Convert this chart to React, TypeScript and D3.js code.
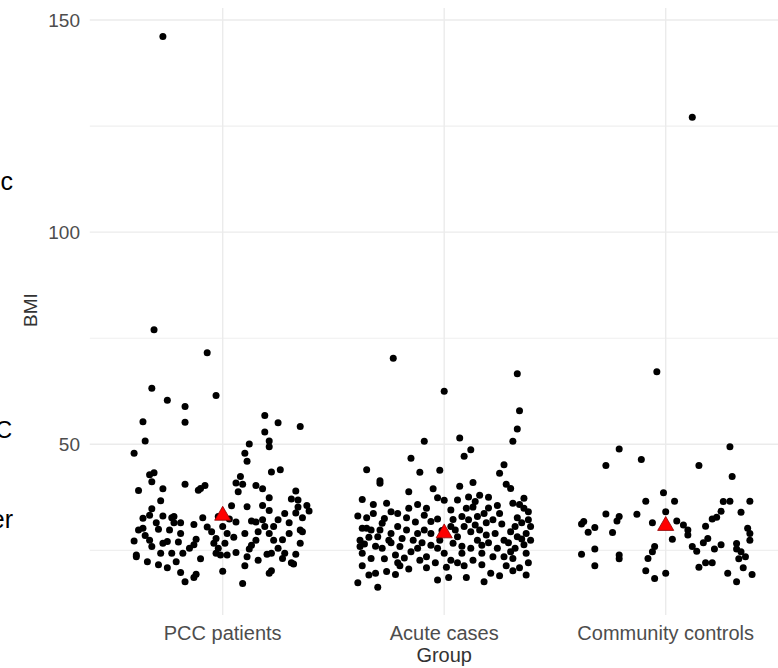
import React from "react";
import * as d3 from "d3";

const categories = ["PCC patients", "Acute cases", "Community controls"];
const yTicks = [50, 100, 150];
const yMinor = [25, 75, 125];

// [jitter offset (category units), BMI]
const pccPoints: [number, number][] = [
  [-0.27, 146.1], [-0.31, 77.0], [-0.07, 71.6], [-0.32, 63.2], [-0.25, 60.4], [-0.03, 61.5],
  [-0.17, 58.9], [-0.36, 55.3], [-0.17, 55.2], [-0.35, 50.8], [-0.4, 47.9], [0.19, 56.8],
  [0.25, 55.1], [0.35, 54.2], [0.19, 52.9], [0.21, 50.8], [0.21, 49.4], [0.12, 50.1],
  [0.1, 47.9], [0.11, 46.0], [0.22, 43.5], [0.26, 44.0], [0.08, 42.4], [0.06, 40.9],
  [0.09, 40.6], [0.07, 38.8], [0.15, 40.3], [0.18, 39.5], [0.21, 37.4], [0.33, 39.0],
  [0.31, 37.1], [0.34, 36.9], [0.38, 35.6], [0.39, 34.3], [0.34, 35.2], [0.36, 32.7],
  [0.35, 29.8], [0.36, 29.4], [0.35, 26.7], [0.33, 24.1], [0.31, 22.1], [0.32, 21.8],
  [0.27, 23.1], [0.28, 24.3], [0.3, 29.0], [0.28, 33.7], [0.25, 32.2], [0.23, 30.6],
  [0.21, 34.4], [0.18, 32.2], [0.19, 30.6], [0.21, 29.0], [0.23, 27.4], [0.25, 25.5],
  [0.22, 24.3], [0.2, 24.1], [0.16, 22.7], [0.21, 19.6], [0.22, 20.2], [0.09, 17.2],
  [0.1, 21.4], [0.11, 23.5], [0.12, 25.3], [0.15, 27.4], [0.16, 29.4], [0.15, 31.7],
  [0.13, 31.9], [0.11, 35.3], [0.1, 29.0], [0.06, 31.7], [0.04, 35.5], [0.0, 30.6],
  [0.02, 29.0], [0.05, 28.1], [0.01, 26.7], [-0.02, 25.5], [-0.03, 24.3], [-0.01, 23.9],
  [0.02, 23.9], [-0.04, 26.7], [-0.05, 29.4], [-0.03, 27.8], [0.0, 20.1], [-0.09, 32.7],
  [-0.13, 31.1], [-0.12, 27.6], [-0.13, 26.3], [-0.15, 25.5], [-0.18, 24.3], [-0.19, 29.0],
  [-0.19, 31.5], [-0.22, 33.0], [-0.22, 31.5], [-0.23, 24.3], [-0.21, 22.3], [-0.19, 19.8],
  [-0.17, 17.6], [-0.12, 19.4], [-0.13, 18.6], [-0.17, 40.6], [-0.11, 39.2], [-0.1, 39.6],
  [-0.08, 40.3], [-0.27, 39.5], [-0.28, 36.7], [-0.27, 33.1], [-0.29, 30.0], [-0.32, 34.8],
  [-0.33, 33.3], [-0.36, 32.6], [-0.38, 39.1], [-0.33, 42.8], [-0.31, 43.3], [-0.32, 41.2],
  [-0.38, 29.8], [-0.36, 30.2], [-0.4, 27.2], [-0.33, 27.4], [-0.32, 25.9], [-0.28, 24.3],
  [-0.27, 26.7], [-0.25, 27.1], [-0.39, 23.9], [-0.39, 23.5], [-0.34, 22.3], [-0.29, 21.6],
  [-0.25, 20.9], [-0.23, 32.7], [-0.35, 28.5], [-0.3, 31.5], [-0.2, 27.0], [-0.07, 30.5],
  [0.03, 32.4], [0.27, 27.5], [0.3, 31.5], [0.13, 26.2], [-0.1, 23.0], [0.06, 24.5],
  [0.33, 33.8], [-0.24, 29.8], [0.18, 35.6], [-0.02, 33.0],
];

const acutePoints: [number, number][] = [
  [-0.23, 70.3], [0.0, 62.5], [0.33, 66.6], [0.34, 57.9], [0.33, 53.6], [0.31, 50.7],
  [0.27, 45.2], [0.25, 43.2], [0.28, 40.6], [0.3, 39.6], [0.07, 51.5], [0.12, 48.7],
  [0.09, 47.2], [-0.09, 50.7], [-0.15, 46.7], [-0.11, 43.4], [-0.02, 43.9], [-0.35, 44.0],
  [-0.29, 41.4], [-0.29, 40.8], [0.07, 40.1], [0.13, 41.0], [-0.05, 39.5], [-0.16, 38.8],
  [-0.03, 37.4], [0.0, 36.8], [-0.37, 37.0], [-0.32, 35.8], [-0.26, 36.1], [-0.24, 34.1],
  [-0.16, 34.9], [-0.08, 34.9], [0.03, 34.5], [0.16, 38.0], [0.2, 37.5], [0.14, 36.5],
  [0.1, 34.9], [-0.39, 33.1], [-0.35, 32.7], [-0.28, 31.4], [-0.17, 32.7], [-0.09, 33.3],
  [-0.03, 32.4], [0.25, 33.7], [0.22, 32.2], [0.18, 33.7], [0.15, 33.0], [0.08, 33.0],
  [0.31, 36.1], [0.36, 37.3], [0.36, 34.9], [0.38, 34.1], [0.38, 32.2], [0.33, 32.7],
  [-0.35, 30.2], [-0.33, 29.8], [-0.38, 27.4], [-0.34, 28.1], [-0.3, 28.2], [-0.25, 27.4],
  [-0.21, 30.6], [-0.17, 29.8], [-0.12, 29.0], [-0.09, 29.8], [-0.06, 29.0], [0.05, 29.8],
  [0.09, 30.6], [0.12, 29.4], [0.16, 29.8], [0.19, 28.6], [0.27, 27.4], [0.3, 29.4],
  [0.33, 28.2], [0.37, 29.0], [0.39, 27.4], [0.36, 26.3], [-0.38, 25.9], [-0.37, 24.3],
  [-0.33, 23.1], [-0.37, 21.4], [-0.28, 25.5], [-0.22, 23.9], [-0.2, 25.9], [-0.15, 24.7],
  [-0.12, 25.5], [-0.08, 23.5], [-0.03, 25.5], [0.0, 24.3], [0.03, 22.7], [0.08, 24.3],
  [0.12, 25.5], [0.17, 24.3], [0.22, 23.5], [0.27, 23.5], [0.31, 23.1], [0.38, 22.1],
  [0.34, 20.9], [0.37, 19.2], [-0.31, 19.6], [-0.26, 20.0], [-0.2, 21.4], [-0.16, 20.6],
  [-0.08, 20.9], [-0.03, 18.0], [0.02, 18.6], [0.09, 21.4], [0.1, 18.6], [0.18, 17.6],
  [0.21, 19.6], [-0.39, 17.4], [-0.3, 16.3], [0.17, 21.6], [0.28, 21.4], [-0.37, 30.2],
  [-0.14, 27.4], [-0.02, 27.4], [0.04, 26.7], [0.15, 27.4], [0.24, 25.5], [0.32, 25.5],
  [-0.24, 29.0], [-0.21, 22.1], [-0.11, 22.7], [-0.04, 22.1], [0.06, 22.1], [0.13, 22.7],
  [-0.29, 29.8], [0.11, 32.2], [0.19, 31.5], [0.39, 30.6], [0.03, 30.6], [-0.13, 31.7],
  [-0.21, 33.7], [-0.32, 33.7], [0.06, 36.9], [0.11, 37.6], [0.37, 24.3], [0.3, 24.7],
  [-0.36, 26.5], [-0.31, 26.0], [-0.27, 23.0], [-0.24, 26.8], [-0.19, 27.8], [-0.18, 23.2],
  [-0.1, 26.8], [-0.06, 26.2], [-0.01, 29.7], [0.01, 21.0], [0.06, 28.2], [0.08, 26.0],
  [0.14, 31.0], [0.17, 26.2], [0.2, 26.8], [0.23, 29.0], [0.26, 31.2], [0.29, 26.8],
  [0.32, 30.6], [0.35, 31.5], [0.35, 27.7], [0.34, 35.8], [0.24, 35.6], [-0.27, 32.5],
  [-0.06, 31.8], [0.13, 35.2], [0.2, 35.0], [-0.12, 35.8], [0.04, 32.3], [-0.34, 19.2],
  [0.25, 19.0], [0.31, 20.2], [-0.22, 19.3],
];

const controlPoints: [number, number][] = [
  [0.12, 127.1], [-0.04, 67.1], [-0.21, 48.9], [0.29, 49.4], [-0.27, 45.0], [-0.11, 46.4],
  [0.15, 45.0], [0.3, 42.4], [-0.01, 38.6], [-0.09, 36.6], [0.04, 36.6], [0.26, 36.5],
  [0.29, 36.6], [0.38, 36.6], [0.0, 34.1], [0.25, 34.2], [0.34, 34.0], [-0.13, 33.5],
  [-0.27, 33.6], [-0.21, 33.0], [-0.22, 31.9], [-0.37, 31.8], [-0.38, 31.2], [-0.32, 30.4],
  [-0.35, 29.3], [-0.24, 29.2], [-0.06, 31.5], [0.05, 31.9], [0.08, 31.0], [0.1, 29.8],
  [0.1, 28.6], [0.18, 30.7], [0.21, 32.4], [0.23, 32.8], [0.37, 30.2], [0.38, 29.0],
  [0.38, 27.4], [0.19, 27.8], [0.17, 26.8], [0.03, 27.6], [-0.05, 25.9], [-0.06, 24.7],
  [-0.08, 23.1], [0.12, 25.9], [0.14, 24.8], [0.22, 25.3], [0.25, 26.3], [0.32, 26.6],
  [0.32, 25.3], [0.34, 24.7], [0.36, 23.5], [0.33, 23.0], [-0.38, 24.1], [-0.32, 25.3],
  [-0.21, 23.9], [-0.21, 23.0], [-0.32, 21.4], [-0.09, 20.2], [-0.05, 18.4], [0.0, 19.6],
  [0.15, 21.0], [0.18, 22.1], [0.21, 22.1], [0.28, 19.6], [0.32, 17.6], [0.35, 20.9],
  [0.39, 19.3],
];

const groupMeans = [33.2, 29.05, 30.8];
const groupPoints = [pccPoints, acutePoints, controlPoints];

const W = 778;
const H = 668;

export default function App() {
  const panelLeft = 89.8;
  const panelRight = 798.6;
  const panelTop = 8;
  const panelBottom = 615;

  const xPos = d3.scalePoint<string>().domain(categories).range([panelLeft, panelRight]).padding(0.6);
  const step = xPos.step();
  const y = d3.scaleLinear().domain([9.77, 152.83]).range([panelBottom, panelTop]);
  const tri = d3.symbol().type(d3.symbolTriangle).size(112)();

  const font = "'Liberation Sans', Arial, Helvetica, sans-serif";

  return (
    <svg width={W} height={H} style={{ position: "absolute", left: 0, top: 0, background: "#fff" }}>
      <rect x={0} y={0} width={W} height={H} fill="#fff" />
      {/* cropped neighbour text */}
      <text x={13} y={190} textAnchor="end" fontSize={25} fontFamily={font} fill="#000">c</text>
      <text x={12} y={438} textAnchor="end" fontSize={23} fontFamily={font} fill="#000">C</text>
      <text x={13} y={528} textAnchor="end" fontSize={25} fontFamily={font} fill="#000">er</text>

      {/* gridlines */}
      {yMinor.map((t) => (
        <line key={"mi" + t} x1={panelLeft} x2={W} y1={y(t)} y2={y(t)} stroke="#efefef" strokeWidth={1.1} />
      ))}
      {yTicks.map((t) => (
        <line key={"ma" + t} x1={panelLeft} x2={W} y1={y(t)} y2={y(t)} stroke="#ebebeb" strokeWidth={1.4} />
      ))}
      {categories.map((c) => (
        <line key={"v" + c} x1={xPos(c)} x2={xPos(c)} y1={panelTop} y2={panelBottom} stroke="#ebebeb" strokeWidth={1.4} />
      ))}

      {/* points */}
      {groupPoints.map((pts, gi) =>
        pts.map(([off, v], i) => (
          <circle key={gi + "-" + i} cx={(xPos(categories[gi]) as number) + off * step} cy={y(v)} r={3.5} fill="#000" />
        ))
      )}

      {/* means */}
      {groupMeans.map((m, gi) => (
        <path
          key={"m" + gi}
          d={tri as string}
          transform={`translate(${xPos(categories[gi])},${y(m)})`}
          fill="#ff0000"
          stroke="#8b0000"
          strokeWidth={0.8}
        />
      ))}

      {/* y tick labels */}
      {yTicks.map((t) => (
        <text key={"yt" + t} x={80} y={y(t)} dy="0.36em" textAnchor="end" fontSize={19} fontFamily={font} fill="#4d4d4d">
          {t}
        </text>
      ))}
      {/* x tick labels */}
      {categories.map((c) => (
        <text key={"xt" + c} x={xPos(c)} y={640} textAnchor="middle" fontSize={20} fontFamily={font} fill="#4d4d4d">
          {c}
        </text>
      ))}
      <text x={xPos(categories[1])} y={662} textAnchor="middle" fontSize={20} fontFamily={font} fill="#333">Group</text>
      <text transform="translate(37,310) rotate(-90)" textAnchor="middle" fontSize={19} fontFamily={font} fill="#333">BMI</text>
    </svg>
  );
}
